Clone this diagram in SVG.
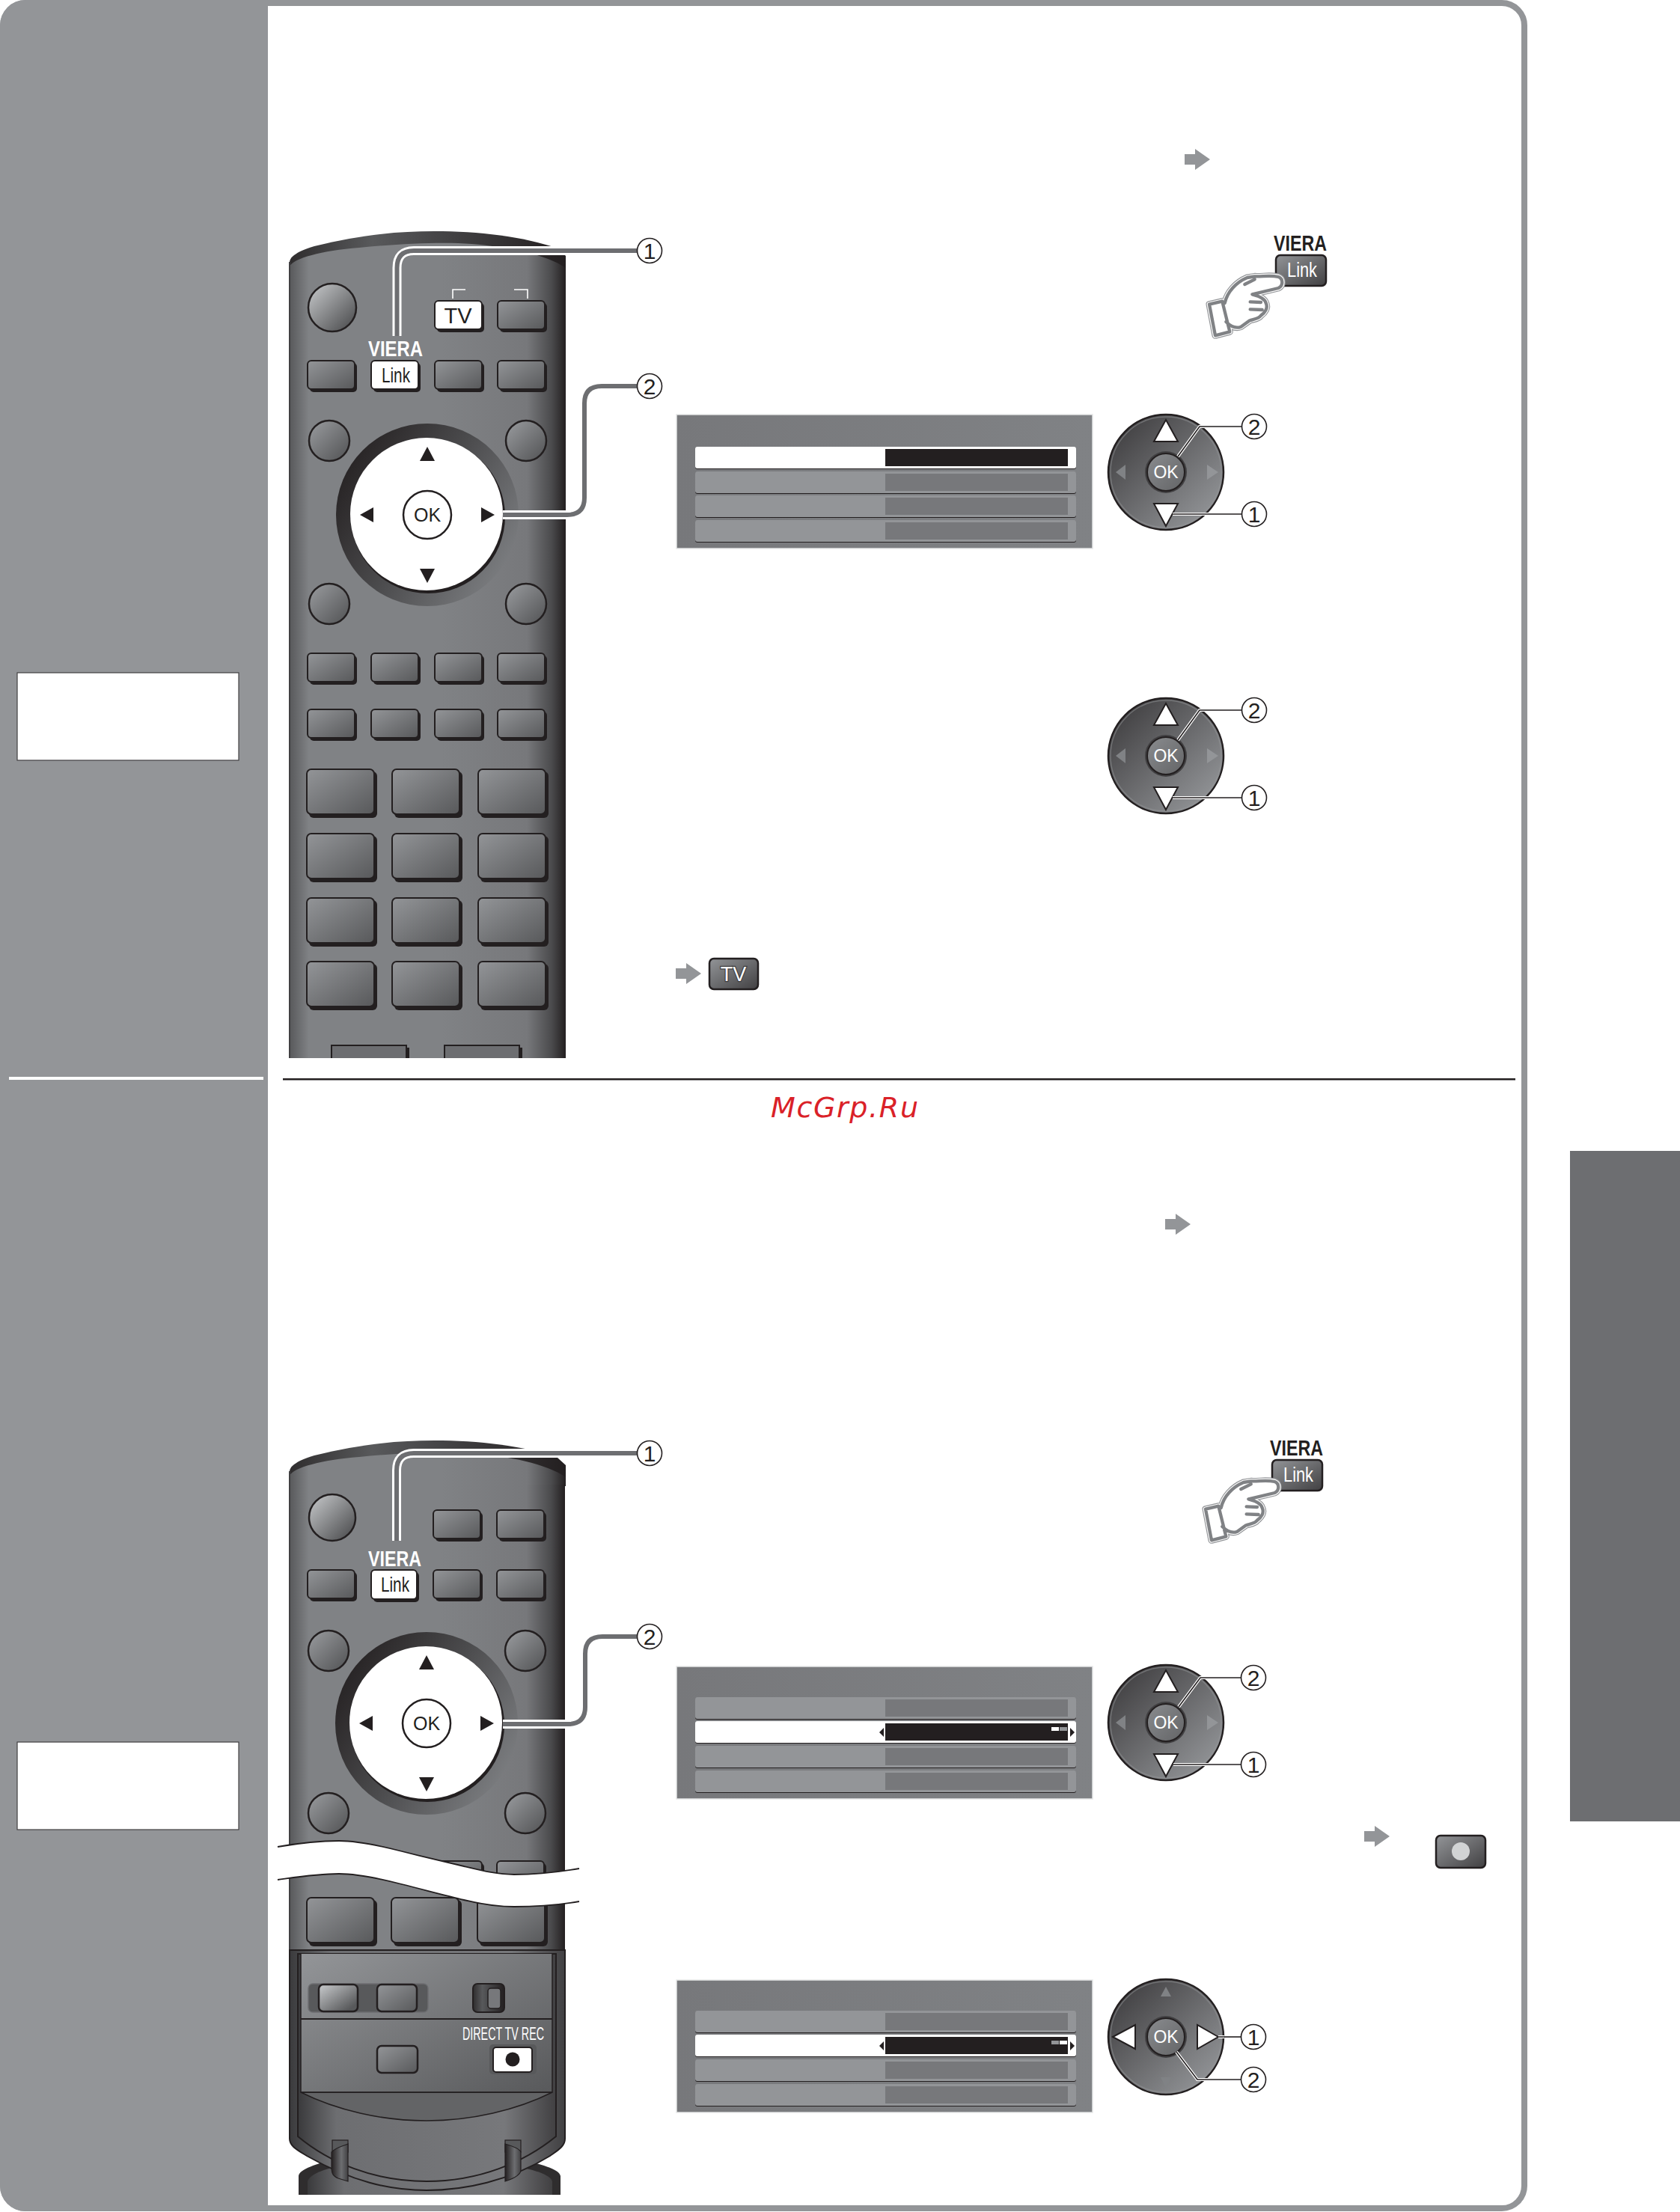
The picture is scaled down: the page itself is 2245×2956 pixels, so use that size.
<svg xmlns="http://www.w3.org/2000/svg" width="2245" height="2956" viewBox="0 0 2245 2956">
<style>
text{font-family:"Liberation Sans",Arial,sans-serif}
.num{font-size:30px;fill:#231f20;text-anchor:middle}
.cc{fill:#fff;stroke:#231f20;stroke-width:1.6}
.lw{fill:none;stroke:#fff;stroke-width:12}
.lg{fill:none;stroke:#6d6e71;stroke-width:6}
.tw{fill:none;stroke:#fff;stroke-width:4}
.tb{fill:none;stroke:#231f20;stroke-width:1.6}
.tri{fill:#231f20}
.wt{fill:#fff;stroke:#231f20;stroke-width:2;stroke-linejoin:miter}
.dim{fill:#808285}
.arrow{fill:#939598}
.btn{fill:url(#btnG);stroke:#231f20;stroke-width:2}
.sh{fill:#231f20}
.wb{fill:#fff;stroke:#231f20;stroke-width:2}
.rnd{fill:url(#circG);stroke:#231f20;stroke-width:2.5}
.menu{fill:url(#menuG);stroke:#e6e7e8;stroke-width:1.5}
.ok{font-size:25px;fill:#231f20;text-anchor:middle}
.okw{font-size:23px;fill:#fff;text-anchor:middle}
.wv{fill:none;stroke:#231f20;stroke-width:1.8}
.lk{font-size:27px;fill:#231f20}
</style>
<defs>
<linearGradient id="bodyG" x1="0" x2="1" y1="0" y2="0"><stop offset="0" stop-color="#58595b"/><stop offset=".07" stop-color="#808285"/><stop offset=".55" stop-color="#808285"/><stop offset=".86" stop-color="#77787b"/><stop offset=".95" stop-color="#4a4a4c"/><stop offset="1" stop-color="#231f20"/></linearGradient>
<linearGradient id="backG" x1="0" x2="1" y1="0" y2="0"><stop offset="0" stop-color="#2f2d2e"/><stop offset=".3" stop-color="#58595b"/><stop offset=".6" stop-color="#414042"/><stop offset="1" stop-color="#231f20"/></linearGradient>
<linearGradient id="btnG" x1="0" y1="0" x2="1" y2="1"><stop offset="0" stop-color="#939598"/><stop offset="1" stop-color="#58595b"/></linearGradient>
<linearGradient id="powG" x1="0" y1="0" x2="1" y2="1"><stop offset=".1" stop-color="#bcbec0"/><stop offset=".85" stop-color="#58595b"/></linearGradient>
<linearGradient id="circG" x1="0" y1="0" x2="1" y2="1"><stop offset=".1" stop-color="#939598"/><stop offset=".9" stop-color="#58595b"/></linearGradient>
<linearGradient id="ringG" x1="0" y1=".2" x2="1" y2=".8"><stop offset="0" stop-color="#231f20"/><stop offset=".5" stop-color="#4d4d4f"/><stop offset="1" stop-color="#808285"/></linearGradient>
<linearGradient id="dpadG" x1="0" y1="0" x2="1" y2="1"><stop offset=".1" stop-color="#414042"/><stop offset=".9" stop-color="#939598"/></linearGradient>
<linearGradient id="okG" x1="0" y1="0" x2="1" y2="1"><stop offset="0" stop-color="#8a8c8f"/><stop offset="1" stop-color="#636466"/></linearGradient>
<linearGradient id="menuG" x1="0" x2="1" y1="0" y2="0"><stop offset="0" stop-color="#77787b"/><stop offset="1" stop-color="#808285"/></linearGradient>
<linearGradient id="linkG" x1="0" y1="0" x2="1" y2="1"><stop offset="0" stop-color="#939598"/><stop offset="1" stop-color="#414042"/></linearGradient>
<linearGradient id="lidG" x1="0" y1="0" x2="1" y2="1"><stop offset="0" stop-color="#939598"/><stop offset="1" stop-color="#58595b"/></linearGradient>
<linearGradient id="lowG" x1="0" y1="0" x2="1" y2="0"><stop offset="0" stop-color="#3a3a3c"/><stop offset=".15" stop-color="#6d6e71"/><stop offset=".8" stop-color="#77787b"/><stop offset="1" stop-color="#414042"/></linearGradient>
<linearGradient id="strapG" x1="0" y1="0" x2="1" y2="0"><stop offset="0" stop-color="#231f20"/><stop offset=".6" stop-color="#6d6e71"/><stop offset="1" stop-color="#414042"/></linearGradient>
<g id="bs"><rect x="3" y="3" width="63" height="39" rx="5" class="sh"/><rect x="0" y="0" width="63" height="38" rx="5" class="btn"/></g>
<g id="bl"><rect x="3" y="3" width="91" height="62" rx="6" class="sh"/><rect x="0" y="0" width="90" height="60" rx="6" class="btn"/></g>
<g id="top"><path d="M387,366V350C388,342 398,336 420,329C480,314 530,309 580,309C640,309 700,316 745,332L756,342V366Z" fill="url(#backG)"/><path d="M387,370V356C392,345 430,335 480,331C530,326 590,323 630,326C680,330 730,340 756,358V370Z" fill="url(#bodyG)"/></g>
<g id="nav"><circle r="122" fill="url(#ringG)"/><circle r="103" fill="#231f20" cx="1" cy="2"/><circle r="102" cx="-1" cy="-1" fill="#fff"/><circle r="32" fill="#fff" stroke="#231f20" stroke-width="2.5"/><text class="ok" y="9">OK</text><polygon class="tri" points="0,-91 10,-72 -10,-72"/><polygon class="tri" points="0,91 10,72 -10,72"/><polygon class="tri" points="-90,0 -72,-10 -72,10"/><polygon class="tri" points="90,0 72,-10 72,10"/></g>
<g id="dcore"><circle r="77" fill="url(#dpadG)" stroke="#231f20" stroke-width="2.5"/><circle r="74" fill="none" stroke="#939598" stroke-width="1.5" opacity=".5"/><circle r="28" fill="#414042"/><circle r="25" fill="url(#okG)" stroke="#231f20" stroke-width="2"/><text class="okw" y="8">OK</text></g>
<g id="dUD"><use href="#dcore"/><polygon class="wt" points="0,-70 16,-41 -16,-41"/><polygon class="wt" points="0,72 16,42 -16,42"/><polygon class="dim" points="-67,0 -54,-10 -54,10"/><polygon fill="#939598" points="70,0 55,-10 55,10"/></g>
<g id="dLR"><use href="#dcore"/><polygon class="wt" points="-71,0 -41,-16 -41,16"/><polygon class="wt" points="70,0 42,-16 42,16"/><polygon class="dim" points="0,-67 7,-54 -7,-54"/><polygon class="dim" points="0,68 7,54 -7,54"/></g>
<g id="rowD"><rect y="1" width="509" height="29" rx="3" fill="#231f20"/><rect width="509" height="29" rx="3" fill="#939598"/><rect x="254" y="3" width="244" height="23" fill="#77787b"/></g>
<g id="rowS"><rect y="1" width="509" height="29" rx="3" fill="#231f20"/><rect width="509" height="29" rx="3" fill="#fff"/><rect x="254" y="3" width="244" height="23" fill="#231f20"/></g>
<g id="ar"><polygon points="0,7 14,7 14,0 34,14 14,28 14,21 0,21"/></g>
<path id="handP" d="M108,350L160,338L190,460L132,475ZM170,345C180,300 215,262 260,243L290,238C320,240 350,232 385,240C405,248 405,275 385,285L280,310C300,315 330,325 335,345C345,365 330,385 315,395C305,410 280,410 270,415L235,440C215,448 195,440 175,420M272,340L315,342M272,370L320,372M250,270L290,250"/>
<g id="hand">
<text x="1702" y="335" font-size="29" font-weight="700" fill="#231f20" textLength="71" lengthAdjust="spacingAndGlyphs">VIERA</text>
<rect x="1705" y="341" width="67" height="41" rx="6" fill="url(#linkG)" stroke="#231f20" stroke-width="2.5"/>
<text x="1720" y="370" font-size="27" fill="#fff" textLength="40" lengthAdjust="spacingAndGlyphs">Link</text>
<g transform="translate(1580 290) scale(.3333)">
<use href="#handP" fill="#fff" stroke="#939598" stroke-width="27" stroke-linejoin="round" stroke-linecap="round"/>
<use href="#handP" fill="#fff" stroke="#fff" stroke-width="20" stroke-linejoin="round" stroke-linecap="round"/>
<use href="#handP" fill="#fff" stroke="#808285" stroke-width="13" stroke-linejoin="round" stroke-linecap="round"/>
</g></g>
<clipPath id="frameClip"><rect x="0" y="0" width="2041" height="2955" rx="34"/></clipPath>
</defs>
<rect width="2245" height="2956" fill="#fff"/>

<g id="frame">
<rect x="4" y="4" width="2033" height="2947" rx="30" fill="#fff" stroke="#939598" stroke-width="8"/>
<rect x="0" y="0" width="358" height="2955" fill="#939598" clip-path="url(#frameClip)"/>
<rect x="12" y="1439" width="340" height="4" fill="#fff"/>
<rect x="378" y="1441" width="1647" height="2.5" fill="#231f20"/>
</g>
<g id="box-1"><rect x="23" y="899" width="296" height="117" fill="#fff" stroke="#414042" stroke-width="1.2"/></g>
<g id="box-2"><rect x="23" y="2328" width="296" height="117" fill="#fff" stroke="#414042" stroke-width="1.2"/></g>
<g id="side-tab"><rect x="2098" y="1538" width="147" height="896" fill="#6d6e71"/></g>
<g id="watermark"><text x="1030" y="1493" font-size="38" font-style="italic" fill="#da2128" textLength="197" style="font-family:'DejaVu Sans',sans-serif">McGrp.Ru</text></g>

<g id="remote-1">
<use href="#top"/>
<rect x="387" y="368" width="369" height="1046" fill="url(#bodyG)"/>
<rect x="386" y="350" width="2" height="1064" fill="#414042"/>
<circle cx="444" cy="411" r="32" fill="url(#powG)" stroke="#231f20" stroke-width="2.5"/>
<rect x="584" y="405" width="63" height="39" rx="5" class="sh"/><rect x="581" y="402" width="63" height="38" rx="5" class="wb"/>
<text x="612" y="432" font-size="29" fill="#231f20" text-anchor="middle">TV</text>
<use href="#bs" x="665" y="402"/>
<path d="M605,399V387H622M687,387H705V399" fill="none" stroke="#fff" stroke-width="1.6"/>
<text x="492" y="476" font-size="30" font-weight="700" fill="#fff" textLength="73" lengthAdjust="spacingAndGlyphs">VIERA</text>
<use href="#bs" x="411" y="482"/>
<rect x="499" y="485" width="63" height="39" rx="5" class="sh"/><rect x="496" y="482" width="63" height="38" rx="5" class="wb"/>
<text class="lk" x="510" y="511" textLength="38" lengthAdjust="spacingAndGlyphs">Link</text>
<use href="#bs" x="581" y="482"/><use href="#bs" x="665" y="482"/>
<circle cx="440" cy="589" r="27" class="rnd"/><circle cx="703" cy="589" r="27" class="rnd"/>
<use href="#nav" x="571" y="688"/>
<circle cx="440" cy="807" r="27" class="rnd"/><circle cx="703" cy="807" r="27" class="rnd"/>
<use href="#bs" x="411" y="873"/><use href="#bs" x="496" y="873"/><use href="#bs" x="581" y="873"/><use href="#bs" x="665" y="873"/>
<use href="#bs" x="411" y="948"/><use href="#bs" x="496" y="948"/><use href="#bs" x="581" y="948"/><use href="#bs" x="665" y="948"/>
<use href="#bl" x="410" y="1028"/><use href="#bl" x="524" y="1028"/><use href="#bl" x="639" y="1028"/>
<use href="#bl" x="410" y="1114"/><use href="#bl" x="524" y="1114"/><use href="#bl" x="639" y="1114"/>
<use href="#bl" x="410" y="1200"/><use href="#bl" x="524" y="1200"/><use href="#bl" x="639" y="1200"/>
<use href="#bl" x="410" y="1285"/><use href="#bl" x="524" y="1285"/><use href="#bl" x="639" y="1285"/>
<rect x="446" y="1400" width="101" height="14" class="sh"/><path d="M443,1414V1397H543V1414Z" fill="#6d6e71"/><path d="M443,1414V1397H543V1414" fill="none" stroke="#231f20" stroke-width="2"/>
<rect x="597" y="1400" width="101" height="14" class="sh"/><path d="M594,1414V1397H694V1414Z" fill="#6d6e71"/><path d="M594,1414V1397H694V1414" fill="none" stroke="#231f20" stroke-width="2"/>
</g>

<g id="remote-2">
<use href="#top" y="1616"/>
<rect x="387" y="1984" width="368" height="624" fill="url(#bodyG)"/>
<rect x="386" y="1966" width="2" height="640" fill="#414042"/>
<circle cx="444" cy="2028" r="31" fill="url(#powG)" stroke="#231f20" stroke-width="2.5"/>
<use href="#bs" x="579" y="2018"/><use href="#bs" x="664" y="2018"/>
<text x="492" y="2093" font-size="30" font-weight="700" fill="#fff" textLength="71" lengthAdjust="spacingAndGlyphs">VIERA</text>
<use href="#bs" x="411" y="2098"/>
<rect x="499" y="2101" width="61" height="40" rx="5" class="sh"/><rect x="496" y="2098" width="61" height="39" rx="5" class="wb"/>
<text class="lk" x="509" y="2127" textLength="38" lengthAdjust="spacingAndGlyphs">Link</text>
<use href="#bs" x="579" y="2098"/><use href="#bs" x="664" y="2098"/>
<circle cx="439" cy="2206" r="27" class="rnd"/><circle cx="702" cy="2206" r="27" class="rnd"/>
<use href="#nav" x="570" y="2303"/>
<circle cx="439" cy="2423" r="27" class="rnd"/><circle cx="702" cy="2423" r="27" class="rnd"/>
<use href="#bs" x="581" y="2487"/><use href="#bs" x="664" y="2487"/>
<use href="#bl" x="410" y="2536"/><use href="#bl" x="523" y="2536"/><use href="#bl" x="638" y="2536"/>
<path d="M371,2468C400,2463 425,2460 453,2460C480,2460 510,2467 537,2474C565,2481 595,2488 620,2494C645,2500 665,2505 687,2505C715,2505 745,2502 774,2497V2541C745,2546 715,2548 687,2548C665,2548 645,2545 620,2539C595,2533 565,2525 537,2518C510,2511 480,2504 453,2504C425,2504 400,2508 371,2512Z" fill="#fff"/>
<path class="wv" d="M371,2468C400,2463 425,2460 453,2460C480,2460 510,2467 537,2474C565,2481 595,2488 620,2494C645,2500 665,2505 687,2505C715,2505 745,2502 774,2497"/>
<path class="wv" d="M371,2512C400,2508 425,2504 453,2504C480,2504 510,2511 537,2518C565,2525 595,2533 620,2539C645,2545 665,2548 687,2548C715,2548 745,2546 774,2541"/>
<path id="rear" d="M399,2933V2908C400,2898 425,2892 445,2885H695C720,2892 748,2898 749,2908V2933Z" fill="#2f2d2e"/>
<path d="M411,2933V2915C414,2906 430,2900 450,2895H690C715,2900 735,2906 738,2915V2933Z" fill="url(#lowG)"/>
<path d="M387,2606V2858C387,2868 397,2873 410,2881C470,2915 520,2927 570,2927C620,2927 680,2915 735,2881C746,2873 755,2868 755,2858V2606Z" fill="url(#lowG)" stroke="#231f20" stroke-width="2"/>
<path d="M398,2611V2855C440,2890 500,2915 570,2915C640,2915 700,2890 743,2855V2611Z" fill="url(#lowG)" stroke="#231f20" stroke-width="2"/>
<rect x="402" y="2611" width="336" height="185" fill="url(#lidG)"/>
<path d="M402,2796C450,2820 510,2834 570,2834C630,2834 690,2820 738,2796Z" fill="#636466" stroke="#231f20" stroke-width="1.5"/>
<path d="M402,2611V2796H738V2611" fill="none" stroke="#231f20" stroke-width="1.5"/>
<rect x="402" y="2697" width="336" height="2" fill="#231f20"/>
<rect x="412" y="2651" width="160" height="38" rx="6" fill="#58595b" stroke="#6d6e71" stroke-width="1.5"/>
<rect x="426" y="2652" width="52" height="36" rx="6" fill="url(#powG)" stroke="#231f20" stroke-width="2.5"/>
<rect x="504" y="2652" width="53" height="36" rx="6" class="btn" style="stroke-width:2.5"/>
<rect x="632" y="2651" width="42" height="38" rx="6" fill="url(#backG)" stroke="#231f20" stroke-width="2"/>
<rect x="652" y="2657" width="17" height="27" rx="4" fill="#77787b" stroke="#231f20" stroke-width="1.5"/>
<text x="618" y="2726" font-size="24" fill="#fff" textLength="109" lengthAdjust="spacingAndGlyphs">DIRECT TV REC</text>
<rect x="504" y="2734" width="54" height="36" rx="6" class="btn" style="stroke-width:2.5"/>
<rect x="654" y="2732" width="63" height="40" rx="5" fill="#58595b"/>
<rect x="659" y="2736" width="52" height="33" rx="4" fill="#fff" stroke="#231f20" stroke-width="2"/>
<circle cx="685" cy="2752" r="9.5" fill="#231f20"/>
<rect x="444" y="2860" width="21" height="16" fill="#58595b" stroke="#231f20" stroke-width="1.2"/>
<path d="M443,2876C448,2870 458,2868 465,2865V2915L452,2911C445,2908 443,2905 443,2895Z" fill="url(#strapG)" stroke="#231f20" stroke-width="1.2"/>
<rect x="675" y="2860" width="21" height="16" fill="#58595b" stroke="#231f20" stroke-width="1.2"/>
<path d="M675,2865C685,2868 695,2872 696,2876V2900C696,2905 690,2910 675,2915Z" fill="url(#strapG)" stroke="#231f20" stroke-width="1.2"/>
</g>

<g id="menu-1">
<rect x="904" y="554" width="556" height="179" class="menu"/>
<use href="#rowS" x="929" y="597"/><use href="#rowD" x="929" y="630"/><use href="#rowD" x="929" y="662"/><use href="#rowD" x="929" y="695"/>
</g>
<g id="menu-2">
<rect x="904" y="2227" width="556" height="177" class="menu"/>
<use href="#rowD" x="929" y="2268"/><use href="#rowS" x="929" y="2300"/><use href="#rowD" x="929" y="2333"/><use href="#rowD" x="929" y="2366"/>
<polygon class="tri" points="1175,2315 1181,2309 1181,2321"/><polygon class="tri" points="1436,2315 1430,2309 1430,2321"/>
<rect x="1405" y="2308" width="10" height="5" fill="#fff"/><rect x="1416" y="2308" width="10" height="5" fill="#939598"/>
</g>
<g id="menu-3">
<rect x="904" y="2646" width="556" height="177" class="menu"/>
<use href="#rowD" x="929" y="2687"/><use href="#rowS" x="929" y="2719"/><use href="#rowD" x="929" y="2752"/><use href="#rowD" x="929" y="2785"/>
<polygon class="tri" points="1175,2734 1181,2728 1181,2740"/><polygon class="tri" points="1436,2734 1430,2728 1430,2740"/>
<rect x="1405" y="2727" width="10" height="5" fill="#939598"/><rect x="1416" y="2727" width="10" height="5" fill="#fff"/>
</g>

<g id="dpad-1"><use href="#dUD" x="1558" y="631"/></g>
<g id="dpad-2"><use href="#dUD" x="1558" y="1010"/></g>
<g id="dpad-3"><use href="#dUD" x="1558" y="2302"/></g>
<g id="dpad-4"><use href="#dLR" x="1558" y="2722"/></g>

<g id="hand-1"><use href="#hand"/></g>
<g id="hand-2"><use href="#hand" x="-5" y="1610"/></g>

<g id="arrows" class="arrow">
<use href="#ar" x="1583" y="199"/>
<use href="#ar" x="1557" y="1622"/>
<use href="#ar" x="1823" y="2440"/>
<use href="#ar" x="903" y="1287"/>
</g>
<g id="key-tv"><rect x="948" y="1281" width="65" height="41" rx="6" fill="url(#linkG)" stroke="#231f20" stroke-width="2.5"/><text x="980" y="1311" font-size="27" fill="#fff" text-anchor="middle" stroke="#414042" stroke-width="2.5" paint-order="stroke fill">TV</text></g>
<g id="key-rec"><rect x="1919" y="2453" width="66" height="43" rx="6" fill="url(#linkG)" stroke="#231f20" stroke-width="2.5"/><circle cx="1952" cy="2474" r="12" fill="#d1d3d4"/></g>

<g id="connectors">
<path class="lw" d="M530.5,449V358Q530.5,335 553,335H852"/><path class="lg" d="M530.5,449V358Q530.5,335 553,335H852"/>
<path class="lw" d="M672,688H758Q781,688 781,665V539Q781,516 804,516H852"/><path class="lg" d="M672,688H758Q781,688 781,665V539Q781,516 804,516H852"/>
<path class="lw" d="M530,2059V1965Q530,1942 553,1942H852"/><path class="lg" d="M530,2059V1965Q530,1942 553,1942H852"/>
<path class="lw" d="M672,2304H759Q782,2304 782,2281V2210Q782,2187 805,2187H852"/><path class="lg" d="M672,2304H759Q782,2304 782,2281V2210Q782,2187 805,2187H852"/>
<path class="tw" d="M1660,570H1603L1574,610"/><path class="tb" d="M1660,570H1603L1574,610"/>
<path class="tw" d="M1630,687H1567"/><path class="tb" d="M1660,687H1567"/>
<path class="tw" d="M1660,949H1603L1574,989"/><path class="tb" d="M1660,949H1603L1574,989"/>
<path class="tw" d="M1630,1066H1567"/><path class="tb" d="M1660,1066H1567"/>
<path class="tw" d="M1660,2242H1604L1575,2281"/><path class="tb" d="M1660,2242H1604L1575,2281"/>
<path class="tw" d="M1630,2358H1568"/><path class="tb" d="M1660,2358H1568"/>
<path class="tw" d="M1636,2722H1628"/><path class="tb" d="M1660,2722H1628"/>
<path class="tw" d="M1660,2779H1600L1572,2742"/><path class="tb" d="M1660,2779H1600L1572,2742"/>
</g>

<g id="callout-r1-1"><circle class="cc" cx="868" cy="335" r="16.5"/><text class="num" x="868" y="346">1</text></g>
<g id="callout-r1-2"><circle class="cc" cx="868" cy="516" r="16.5"/><text class="num" x="868" y="527">2</text></g>
<g id="callout-r2-1"><circle class="cc" cx="868" cy="1942" r="16.5"/><text class="num" x="868" y="1953">1</text></g>
<g id="callout-r2-2"><circle class="cc" cx="868" cy="2187" r="16.5"/><text class="num" x="868" y="2198">2</text></g>
<g id="callout-d1-2"><circle class="cc" cx="1676" cy="570" r="16.5"/><text class="num" x="1676" y="581">2</text></g>
<g id="callout-d1-1"><circle class="cc" cx="1676" cy="687" r="16.5"/><text class="num" x="1676" y="698">1</text></g>
<g id="callout-d2-2"><circle class="cc" cx="1676" cy="949" r="16.5"/><text class="num" x="1676" y="960">2</text></g>
<g id="callout-d2-1"><circle class="cc" cx="1676" cy="1066" r="16.5"/><text class="num" x="1676" y="1077">1</text></g>
<g id="callout-d3-2"><circle class="cc" cx="1675" cy="2242" r="16.5"/><text class="num" x="1675" y="2253">2</text></g>
<g id="callout-d3-1"><circle class="cc" cx="1675" cy="2358" r="16.5"/><text class="num" x="1675" y="2369">1</text></g>
<g id="callout-d4-1"><circle class="cc" cx="1675" cy="2722" r="16.5"/><text class="num" x="1675" y="2733">1</text></g>
<g id="callout-d4-2"><circle class="cc" cx="1675" cy="2779" r="16.5"/><text class="num" x="1675" y="2790">2</text></g>
</svg>
